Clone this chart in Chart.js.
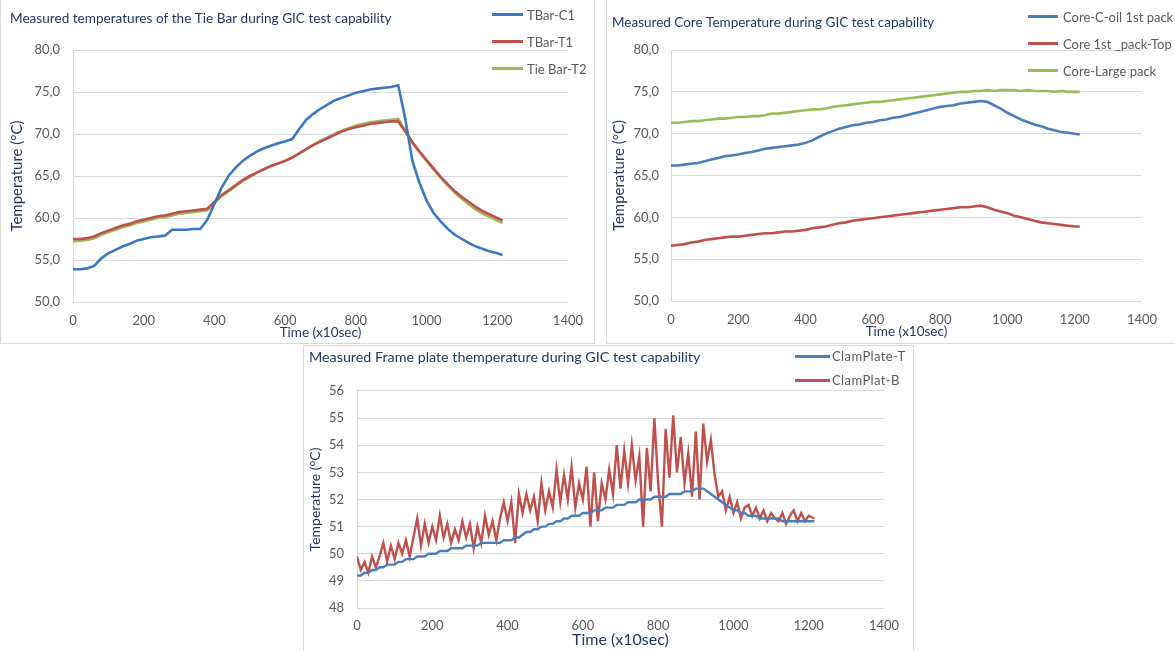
<!DOCTYPE html>
<html>
<head>
<meta charset="utf-8">
<title>GIC test capability temperatures</title>
<script src="https://cdn.jsdelivr.net/npm/chart.js@4.4.1/dist/chart.umd.min.js"></script>
<style>
  body { margin: 0; background: #fff; width: 1175px; height: 651px; overflow: hidden; position: relative; font-family: Lato, sans-serif; }
  .panel { position: absolute; border: 1px solid #d9d9d9; box-sizing: border-box; }
  canvas { position: absolute; }
  .legend { position: absolute; margin: 0; padding: 0; list-style: none; font-size: 13px; color: #595959; }
  .legend li { display: flex; align-items: center; white-space: nowrap; }
  .legend .swatch { display: inline-block; height: 3px; }
</style>
</head>
<body>
<div class="panel" style="left:0px; top:-1px; width:595px; height:345px;"></div>
<div class="panel" style="left:606px; top:-1px; width:575px; height:345px;"></div>
<div class="panel" style="left:303px; top:345px; width:611px; height:310px;"></div>

<canvas id="chartTieBar" width="594" height="344" style="left:0px; top:0px;"></canvas>
<canvas id="chartCore" width="569" height="343" style="left:606px; top:0px;"></canvas>
<canvas id="chartFrame" width="610" height="306" style="left:303px; top:345px;"></canvas>

<ul class="legend" id="legendTieBar" style="left:492px; top:1px;"></ul>
<ul class="legend" id="legendCore" style="left:1028px; top:3px;"></ul>
<ul class="legend" id="legendFrame" style="left:795px; top:344px; letter-spacing:0.4px;"></ul>

<script>
// time axis (x10 sec)
const timeTop = [0,20,40,60,80,100,120,140,160,180,200,220,240,260,280,300,320,340,360,380,
  400,420,440,460,480,500,520,540,560,580,600,620,640,660,680,700,720,740,760,780,
  800,820,840,860,880,900,920,940,960,980,1000,1020,1040,1060,1080,1100,1120,1140,1160,1180,
  1200,1215];

const timeBottom = [0,10,20,30,40,50,60,70,80,90,100,110,120,130,140,150,160,170,180,190,
  200,210,220,230,240,250,260,270,280,290,300,310,320,330,340,350,360,370,380,390,
  400,410,420,430,440,450,460,470,480,490,500,510,520,530,540,550,560,570,580,590,
  600,610,620,630,640,650,660,670,680,690,700,710,720,730,740,750,760,770,780,790,
  800,810,820,830,840,850,860,870,880,890,900,910,920,930,940,950,960,970,980,990,
  1000,1010,1020,1030,1040,1050,1060,1070,1080,1090,1100,1110,1120,1130,1140,1150,1160,1170,1180,1190,
  1200,1215];

// Tie bar (deg C)
const tbarC1 = [53.9,53.9,54.0,54.3,55.2,55.8,56.2,56.6,56.9,57.3,
  57.5,57.7,57.8,57.9,58.6,58.6,58.6,58.7,58.7,59.8,
  61.7,63.6,65.0,66.0,66.8,67.4,67.9,68.3,68.6,68.9,
  69.1,69.4,70.6,71.7,72.4,73.0,73.5,74.0,74.3,74.6,
  74.9,75.1,75.3,75.4,75.5,75.6,75.8,71.8,66.8,64.2,
  62.1,60.6,59.6,58.7,58.0,57.5,57.0,56.6,56.3,56.0,
  55.8,55.6];
const tbarT1 = [57.5,57.5,57.6,57.8,58.2,58.5,58.8,59.1,59.3,59.6,
  59.8,60.0,60.2,60.3,60.5,60.7,60.8,60.9,61.0,61.1,
  61.9,62.7,63.3,63.9,64.5,65.0,65.4,65.8,66.2,66.5,
  66.8,67.2,67.7,68.2,68.7,69.1,69.5,69.9,70.3,70.6,
  70.8,71.0,71.2,71.3,71.4,71.5,71.5,70.3,69.0,67.9,
  66.9,65.9,64.9,64.0,63.2,62.5,61.9,61.3,60.8,60.4,
  60.0,59.7];
const tieBarT2 = [57.2,57.3,57.4,57.6,58.0,58.3,58.6,58.9,59.1,59.4,
  59.6,59.8,60.0,60.1,60.3,60.5,60.6,60.7,60.8,60.9,
  61.8,62.6,63.2,63.8,64.4,64.9,65.4,65.8,66.2,66.5,
  66.8,67.2,67.7,68.2,68.7,69.2,69.6,70.0,70.4,70.7,
  71.0,71.2,71.4,71.5,71.6,71.7,71.8,70.4,69.0,67.9,
  66.8,65.8,64.8,63.9,63.0,62.3,61.6,61.0,60.5,60.1,
  59.7,59.4];

// Core (deg C)
const coreCoil = [66.2,66.2,66.3,66.4,66.5,66.7,66.9,67.1,67.3,67.4,
  67.5,67.7,67.8,68.0,68.2,68.3,68.4,68.5,68.6,68.7,
  68.9,69.2,69.6,70.0,70.3,70.6,70.8,71.0,71.1,71.3,
  71.4,71.6,71.7,71.9,72.0,72.2,72.4,72.6,72.8,73.0,
  73.2,73.3,73.4,73.6,73.7,73.8,73.9,73.8,73.4,73.0,
  72.5,72.1,71.7,71.4,71.1,70.9,70.6,70.4,70.2,70.1,
  70.0,69.9];
const corePackTop = [56.6,56.7,56.8,57.0,57.1,57.3,57.4,57.5,57.6,57.7,
  57.7,57.8,57.9,58.0,58.1,58.1,58.2,58.3,58.3,58.4,
  58.5,58.7,58.8,58.9,59.1,59.3,59.4,59.6,59.7,59.8,
  59.9,60.0,60.1,60.2,60.3,60.4,60.5,60.6,60.7,60.8,
  60.9,61.0,61.1,61.2,61.2,61.3,61.4,61.2,60.9,60.7,
  60.5,60.2,60.0,59.8,59.6,59.4,59.3,59.2,59.1,59.0,
  58.9,58.9];
const coreLarge = [71.3,71.3,71.4,71.5,71.5,71.6,71.7,71.8,71.8,71.9,
  72.0,72.0,72.1,72.1,72.2,72.4,72.4,72.5,72.6,72.7,
  72.8,72.9,72.9,73.0,73.2,73.3,73.4,73.5,73.6,73.7,
  73.8,73.8,73.9,74.0,74.1,74.2,74.3,74.4,74.5,74.6,
  74.7,74.8,74.9,75.0,75.0,75.1,75.1,75.2,75.1,75.2,
  75.2,75.2,75.1,75.2,75.1,75.1,75.1,75.0,75.1,75.0,
  75.0,75.0];

// Frame / clamp plate (deg C)
const clampTop = [49.2,49.2,49.3,49.3,49.4,49.4,49.5,49.5,49.6,49.6,
  49.6,49.7,49.7,49.8,49.8,49.8,49.9,49.9,49.9,50.0,
  50.0,50.0,50.1,50.1,50.1,50.2,50.2,50.2,50.2,50.3,
  50.3,50.3,50.3,50.4,50.4,50.4,50.4,50.4,50.4,50.5,
  50.5,50.5,50.6,50.6,50.7,50.8,50.8,50.9,50.9,51.0,
  51.0,51.1,51.1,51.2,51.2,51.3,51.3,51.4,51.4,51.4,
  51.5,51.5,51.5,51.6,51.6,51.6,51.7,51.7,51.7,51.8,
  51.8,51.8,51.9,51.9,51.9,52.0,52.0,52.0,52.0,52.1,
  52.1,52.1,52.1,52.2,52.2,52.2,52.2,52.3,52.3,52.3,
  52.4,52.4,52.4,52.3,52.2,52.1,52.0,51.9,51.8,51.7,
  51.6,51.6,51.5,51.5,51.4,51.4,51.4,51.3,51.3,51.3,
  51.3,51.3,51.3,51.2,51.2,51.2,51.2,51.2,51.2,51.2,
  51.2,51.2];
const clampBottom = [49.9,49.4,49.7,49.3,49.9,49.5,49.9,50.4,49.7,50.3,
  49.8,50.4,50.0,50.5,49.9,50.6,51.3,50.3,51.1,50.4,
  51.0,50.5,51.4,50.6,51.1,50.4,50.9,50.5,51.2,50.6,
  51.1,50.2,51.0,50.4,51.4,50.7,51.2,50.5,51.3,51.9,
  51.2,51.9,50.4,52.2,51.5,52.2,51.6,52.1,51.2,52.6,
  51.6,52.3,51.7,53.1,51.9,52.9,52.0,53.2,51.7,52.6,
  52.0,53.2,51.0,53.0,51.2,52.6,52.0,53.1,52.2,54.0,
  52.4,53.8,52.6,54.0,52.7,53.6,51.0,53.9,52.3,55.0,
  52.6,51.0,54.6,52.8,55.1,53.0,54.3,52.6,53.7,52.1,
  54.5,52.0,54.8,53.4,54.2,52.9,52.1,52.3,51.6,52.1,
  51.5,51.9,51.3,51.7,51.8,51.4,51.7,51.3,51.6,51.2,
  51.5,51.3,51.2,51.5,51.1,51.4,51.6,51.2,51.5,51.2,
  51.4,51.3];

const FONT = 'Lato, sans-serif';
const NAVY = '#203864';
const GRAY = '#595959';
const GRID = '#d9d9d9';

// legend drawn as html list from the datasets
const htmlLegend = {
  id: 'htmlLegend',
  afterUpdate(chart, args, opts) {
    const ul = document.getElementById(opts.containerID);
    ul.innerHTML = '';
    chart.data.datasets.forEach(ds => {
      const li = document.createElement('li');
      li.style.height = opts.rowHeight + 'px';
      const sw = document.createElement('span');
      sw.className = 'swatch';
      sw.style.width = opts.swatchWidth + 'px';
      sw.style.marginRight = opts.gap + 'px';
      sw.style.background = ds.borderColor;
      li.appendChild(sw);
      li.appendChild(document.createTextNode(ds.label));
      ul.appendChild(li);
    });
  }
};

const createChart = function(chartId, times, series, cfg) {
  const ctx = document.getElementById(chartId).getContext('2d');
  return new Chart(ctx, {
    type: 'line',
    data: {
      datasets: series.map(s => ({
        label: s.label,
        data: times.map((t, i) => ({ x: t, y: s.values[i] })),
        borderColor: s.color,
        borderWidth: cfg.lineWidth,
        pointRadius: 0,
        tension: 0
      }))
    },
    plugins: [htmlLegend],
    options: {
      responsive: false,
      animation: false,
      events: [],
      layout: { padding: { left: cfg.padLeft, right: cfg.padRight, top: 0, bottom: 0 } },
      plugins: {
        legend: { display: false },
        tooltip: { enabled: false },
        htmlLegend: cfg.legend,
        title: {
          display: true,
          text: cfg.title,
          align: 'start',
          color: NAVY,
          font: { family: FONT, size: cfg.titleSize, weight: 'normal' },
          padding: { top: cfg.titleTop, bottom: cfg.titleBottom }
        }
      },
      scales: {
        x: {
          type: 'linear',
          min: 0,
          max: 1400,
          afterFit: function(scale) { scale.height = cfg.xHeight; },
          grid: { display: false, drawTicks: false },
          border: { display: false },
          ticks: {
            stepSize: 200,
            padding: cfg.xTickPad,
            color: GRAY,
            font: { family: FONT, size: 13 },
            callback: v => String(v)
          },
          title: {
            display: true,
            text: 'Time (x10sec)',
            color: NAVY,
            font: { family: FONT, size: cfg.xTitleSize },
            padding: { top: 0, bottom: cfg.xTitlePad }
          }
        },
        y: {
          min: cfg.yMin,
          max: cfg.yMax,
          afterFit: function(scale) { scale.width = cfg.yWidth; },
          grid: { color: GRID, drawTicks: false },
          border: { display: true, color: GRID },
          ticks: {
            stepSize: cfg.yStep,
            padding: cfg.yTickPad,
            color: GRAY,
            font: { family: FONT, size: 13 },
            callback: cfg.yFormat
          },
          title: {
            display: true,
            text: 'Temperature (°C)',
            color: NAVY,
            font: { family: FONT, size: cfg.yTitleSize },
            padding: { top: cfg.yTitlePad, bottom: 0 }
          }
        }
      }
    }
  });
};

const commaOne = v => v.toFixed(1).replace('.', ',');

createChart('chartTieBar', timeTop, [
  { label: 'TBar-C1', values: tbarC1, color: '#3a78c3' },
  { label: 'TBar-T1', values: tbarT1, color: '#c0504d' },
  { label: 'Tie Bar-T2', values: tieBarT2, color: '#9bbb59' }
], {
  title: 'Measured temperatures of the Tie Bar during GIC test capability',
  titleSize: 13.6, titleTop: 10, titleBottom: 23.7,
  padLeft: 10, padRight: 24, yWidth: 63, xHeight: 42,
  xTickPad: 11, yTickPad: 13, xTitleSize: 13.5, xTitlePad: 3,
  yTitleSize: 15, yTitlePad: -2,
  yMin: 50, yMax: 80, yStep: 5, yFormat: commaOne, lineWidth: 2.6,
  legend: { containerID: 'legendTieBar', rowHeight: 27, swatchWidth: 31, gap: 4 }
});

createChart('chartCore', timeTop, [
  { label: 'Core-C-oil 1st pack', values: coreCoil, color: '#4a7ebb' },
  { label: 'Core 1st _pack-Top', values: corePackTop, color: '#c0504d' },
  { label: 'Core-Large pack', values: coreLarge, color: '#9bbb59' }
], {
  title: 'Measured Core Temperature during GIC test capability',
  titleSize: 13.5, titleTop: 15, titleBottom: 18.8,
  padLeft: 6, padRight: 33, yWidth: 59, xHeight: 42,
  xTickPad: 11, yTickPad: 12, xTitleSize: 13.5, xTitlePad: 3,
  yTitleSize: 15, yTitlePad: -2,
  yMin: 50, yMax: 80, yStep: 5, yFormat: commaOne, lineWidth: 2.6,
  legend: { containerID: 'legendCore', rowHeight: 27, swatchWidth: 30, gap: 5 }
});

createChart('chartFrame', timeBottom, [
  { label: 'ClamPlate-T', values: clampTop, color: '#4a7ebb' },
  { label: 'ClamPlat-B', values: clampBottom, color: '#c0504d' }
], {
  title: 'Measured Frame plate themperature during GIC test capability',
  titleSize: 14.3, titleTop: 3.4, titleBottom: 25.4,
  padLeft: 6, padRight: 29, yWidth: 48, xHeight: 43,
  xTickPad: 10, yTickPad: 13, xTitleSize: 16, xTitlePad: 1.4,
  yTitleSize: 14, yTitlePad: -2,
  yMin: 48, yMax: 56, yStep: 1, yFormat: v => String(v), lineWidth: 2.4,
  legend: { containerID: 'legendFrame', rowHeight: 24, swatchWidth: 35, gap: 2 }
});
</script>
</body>
</html>
